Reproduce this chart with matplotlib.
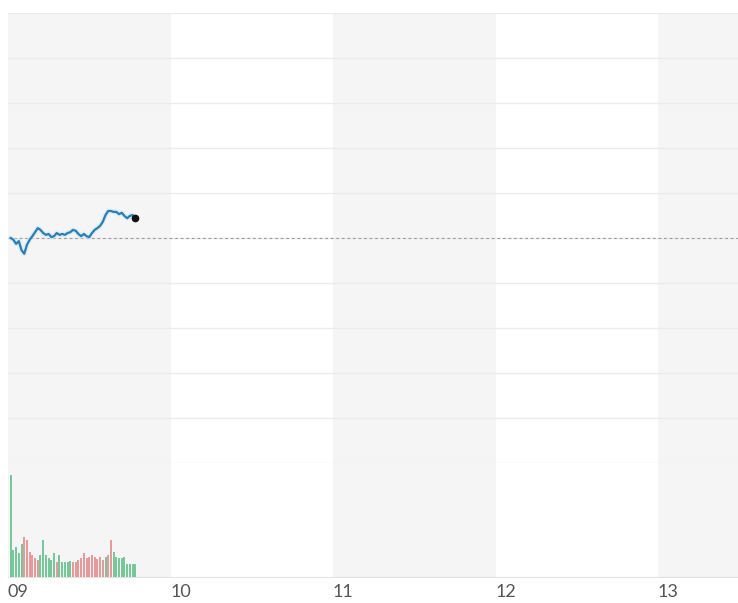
import matplotlib
matplotlib.use("Agg")
import matplotlib.pyplot as plt
import matplotlib.transforms as mtransforms
import numpy as np

# ---- data ----
minutes = list(range(1, 48))
prices = [10.000, 9.996, 9.987, 9.993, 9.973, 9.965, 9.985, 9.996, 10.004,
          10.013, 10.022, 10.018, 10.011, 10.007, 10.009, 10.002, 10.004,
          10.011, 10.007, 10.009, 10.007, 10.011, 10.013, 10.018, 10.016,
          10.009, 10.004, 10.009, 10.004, 10.002, 10.011, 10.018, 10.022,
          10.027, 10.036, 10.051, 10.060, 10.060, 10.058, 10.058, 10.053,
          10.056, 10.049, 10.044, 10.049, 10.051, 10.044]
prev_close = 10.00
volumes = [102, 27, 30, 24, 33, 40, 37, 25, 22, 19, 17, 22, 37, 22, 19, 17,
           24, 15, 22, 15, 15, 15, 16, 15, 15, 17, 19, 24, 19, 20, 22, 20,
           18, 20, 17, 20, 22, 37, 25, 20, 19, 19, 20, 13, 13, 13, 13]
vol_dir = list("ggggg" "rrrrrr" "gggggg" "r" "ggggg" "rrrrrrrrrrrr" "g" "rr"
               "gggggggg")
hour_ticks = [9, 10, 11, 12, 13]
hour_labels = ["09", "10", "11", "12", "13"]

# ---- layout ----
W, H = 738, 603
fig = plt.figure(figsize=(W / 100, H / 100), dpi=100)
fig.patch.set_facecolor("white")

x0, x1 = 9.0, 9.0 + 730 / 162.5
left = 8 / W
width = 730 / W

bg = fig.add_axes([left, 26 / H, width, 564 / H])
bg.set_xlim(x0, x1)
bg.set_ylim(0, 1)
for h in hour_ticks:
    if (h - 9) % 2 == 0:
        bg.axvspan(h, h + 1, color="#f5f5f5", lw=0, zorder=0)
bg.set_yticks([])
bg.set_xticks(hour_ticks)
bg.set_xticklabels(hour_labels, family=["Lato", "DejaVu Sans"])
offset = mtransforms.ScaledTranslation(2 / 100, 0, fig.dpi_scale_trans)
for lab in bg.get_xticklabels():
    lab.set_horizontalalignment("left")
    lab.set_transform(lab.get_transform() + offset)
bg.tick_params(axis="x", length=0, pad=5, labelsize=13, colors="#555555")
for s in bg.spines.values():
    s.set_visible(False)
bg.spines["bottom"].set_visible(True)
bg.spines["bottom"].set_color("#e2e2e2")

# price panel
ax = fig.add_axes([left, 140 / H, width, 450 / H])
ax.patch.set_alpha(0)
ax.set_xlim(x0, x1)
ax.set_ylim(prev_close - 0.5, prev_close + 0.5)
ax.set_yticks(np.round(np.arange(prev_close - 0.5, prev_close + 0.51, 0.1), 2))
ax.grid(axis="y", color="#ebebeb", lw=1.0)
ax.set_xticks([])
ax.tick_params(axis="y", length=0, labelleft=False)
for s in ax.spines.values():
    s.set_visible(False)
ax.axhline(prev_close, color="#9a9a9a", lw=0.8, ls=(0, (2.5, 2.5)), zorder=3)
t = [9 + m / 60 for m in minutes]
ax.plot(t, prices, color="#cfe9f6", lw=3.8, alpha=0.6, zorder=4,
        solid_capstyle="round")
ax.plot(t, prices, color="#2a7fae", lw=1.6, zorder=5)
ax.plot(t[-1], prices[-1], "o", color="#111111", ms=4.5, zorder=6)

# volume panel
av = fig.add_axes([left, 26 / H, width, 114 / H])
av.patch.set_alpha(0)
av.set_xlim(x0, x1)
av.set_ylim(0, 114)
av.axis("off")
cols = ["#78c79b" if d == "g" else "#e59b9b" for d in vol_dir]
av.bar(t, volumes, width=2.0 / 162.5, color=cols, lw=0, align="center")

fig.savefig("out.png", dpi=100)
